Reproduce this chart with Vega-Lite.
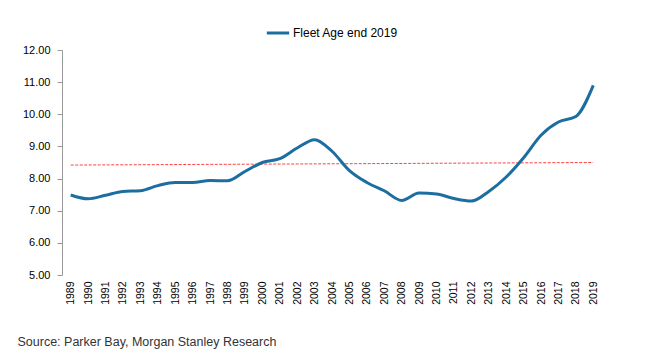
{
  "$schema": "https://vega.github.io/schema/vega-lite/v6.json",
  "autosize": {"type": "none"},
  "width": 540,
  "height": 225,
  "padding": {"left": 62, "top": 50, "right": 56, "bottom": 84},
  "background": "white",
  "config": {
    "view": {"stroke": null},
    "font": "Liberation Sans"
  },
  "datasets": {
    "fleet": [
      {"year": "1989", "value": 7.49, "series": "Fleet Age end 2019"},
      {"year": "1990", "value": 7.37, "series": "Fleet Age end 2019"},
      {"year": "1991", "value": 7.48, "series": "Fleet Age end 2019"},
      {"year": "1992", "value": 7.6, "series": "Fleet Age end 2019"},
      {"year": "1993", "value": 7.62, "series": "Fleet Age end 2019"},
      {"year": "1994", "value": 7.78, "series": "Fleet Age end 2019"},
      {"year": "1995", "value": 7.88, "series": "Fleet Age end 2019"},
      {"year": "1996", "value": 7.88, "series": "Fleet Age end 2019"},
      {"year": "1997", "value": 7.94, "series": "Fleet Age end 2019"},
      {"year": "1998", "value": 7.93, "series": "Fleet Age end 2019"},
      {"year": "1999", "value": 8.22, "series": "Fleet Age end 2019"},
      {"year": "2000", "value": 8.5, "series": "Fleet Age end 2019"},
      {"year": "2001", "value": 8.62, "series": "Fleet Age end 2019"},
      {"year": "2002", "value": 8.95, "series": "Fleet Age end 2019"},
      {"year": "2003", "value": 9.21, "series": "Fleet Age end 2019"},
      {"year": "2004", "value": 8.85, "series": "Fleet Age end 2019"},
      {"year": "2005", "value": 8.25, "series": "Fleet Age end 2019"},
      {"year": "2006", "value": 7.88, "series": "Fleet Age end 2019"},
      {"year": "2007", "value": 7.62, "series": "Fleet Age end 2019"},
      {"year": "2008", "value": 7.32, "series": "Fleet Age end 2019"},
      {"year": "2009", "value": 7.55, "series": "Fleet Age end 2019"},
      {"year": "2010", "value": 7.52, "series": "Fleet Age end 2019"},
      {"year": "2011", "value": 7.38, "series": "Fleet Age end 2019"},
      {"year": "2012", "value": 7.3, "series": "Fleet Age end 2019"},
      {"year": "2013", "value": 7.6, "series": "Fleet Age end 2019"},
      {"year": "2014", "value": 8.05, "series": "Fleet Age end 2019"},
      {"year": "2015", "value": 8.65, "series": "Fleet Age end 2019"},
      {"year": "2016", "value": 9.35, "series": "Fleet Age end 2019"},
      {"year": "2017", "value": 9.76, "series": "Fleet Age end 2019"},
      {"year": "2018", "value": 9.93, "series": "Fleet Age end 2019"},
      {"year": "2019", "value": 10.9, "series": "Fleet Age end 2019"}
    ],
    "trend": [
      {"year": "1989", "value": 8.42},
      {"year": "2019", "value": 8.5}
    ]
  },
  "encoding": {
    "x": {
      "field": "year",
      "type": "ordinal",
      "scale": {"type": "point", "padding": 0.5},
      "axis": {
        "title": "Source: Parker Bay, Morgan Stanley Research",
        "titleX": -45,
        "titleY": 66,
        "titleAlign": "left",
        "titleAnchor": null,
        "titleBaseline": "middle",
        "titleFontSize": 12.5,
        "titleFontWeight": "normal",
        "titleColor": "#333333",
        "titleFont": "Liberation Sans",
        "labelAngle": -90,
        "labelFontSize": 10.5,
        "labelColor": "#000000",
        "labelPadding": 6,
        "labelOverlap": false,
        "domain": false,
        "ticks": false
      }
    },
    "y": {
      "field": "value",
      "type": "quantitative",
      "scale": {"domain": [5, 12], "nice": false, "zero": false},
      "axis": {
        "title": null,
        "values": [5, 6, 7, 8, 9, 10, 11, 12],
        "format": ".2f",
        "grid": false,
        "labelOverlap": false,
        "labelFlush": false,
        "domainColor": "#999999",
        "tickColor": "#999999",
        "tickSize": 5,
        "labelFontSize": 11,
        "labelColor": "#000000",
        "labelPadding": 7
      }
    }
  },
  "layer": [
    {
      "data": {"name": "trend"},
      "mark": {"type": "line", "color": "#ff2020", "strokeWidth": 1, "strokeDash": [3, 1.5], "opacity": 0.85}
    },
    {
      "data": {"name": "fleet"},
      "mark": {"type": "line", "strokeWidth": 3, "interpolate": "monotone"},
      "encoding": {
        "color": {
          "field": "series",
          "type": "nominal",
          "scale": {"range": ["#1c6ea0"]},
          "legend": {
            "title": null,
            "orient": "none",
            "legendX": 203,
            "legendY": -30,
            "symbolType": "stroke",
            "symbolStrokeWidth": 3,
            "symbolSize": 500,
            "labelFontSize": 12,
            "labelColor": "#000000",
            "labelOffset": 2
          }
        }
      }
    }
  ]
}
